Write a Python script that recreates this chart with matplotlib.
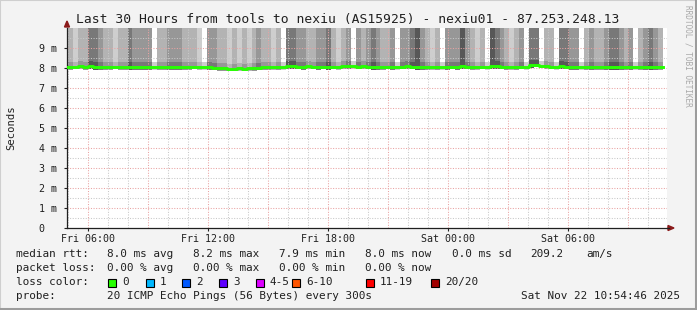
import numpy as np
import matplotlib
matplotlib.use("Agg")
import matplotlib.pyplot as plt
from matplotlib.patches import Polygon, Rectangle

# ---------------- data ----------------
title = "Last 30 Hours from tools to nexiu (AS15925) - nexiu01 - 87.253.248.13"
start_hour = 5.0          # Fri 05:00 (hours since Fri 00:00)
step_hours = 0.248        # one smoke/median bin
tick_hours = [6, 12, 18, 24, 30]
tick_labels = ["Fri 06:00", "Fri 12:00", "Fri 18:00", "Sat 00:00", "Sat 06:00"]
y_ticks = list(range(0, 10))
y_labels = ["0  "] + [f"{v} m" for v in range(1, 10)]

# smoke density level per bin (0 = none ... 5 = very dark)
smoke_level = [
    2, 1, 2, 2, 4, 4, 3, 2, 2, 1,
    2, 2, 4, 3, 3, 3, 3, 0, 2, 2,
    3, 3, 3, 2, 2, 2, 1, 0, 3, 3,
    2, 2, 1, 2, 1, 2, 1, 2, 3, 2,
    2, 1, 2, 0, 4, 4, 3, 3, 2, 2,
    3, 3, 4, 2, 1, 2, 3, 0, 3, 2,
    3, 4, 3, 2, 2, 3, 0, 3, 3, 4,
    5, 3, 2, 1, 2, 0, 3, 3, 3, 5,
    3, 2, 1, 2, 0, 5, 4, 3, 2, 1,
    2, 3, 0, 4, 4, 0, 2, 2, 0, 4,
    4, 3, 3, 0, 2, 3, 2, 2, 3, 4,
    4, 3, 2, 3, 0, 2, 3, 4, 3, 2,
]

# median rtt (ms) per bin
median_ms = [
    8.06, 8.07, 8.08, 8.06, 8.09, 8.05, 8.04, 8.06, 8.05, 8.07,
    8.05, 8.04, 8.06, 8.03, 8.05, 8.06, 8.04, 8.03, 8.05, 8.06,
    8.04, 8.05, 8.06, 8.04, 8.05, 8.07, 8.05, 8.04, 8.03, 8.02,
    8.01, 7.98, 7.97, 7.97, 7.98, 7.97, 7.99, 8.01, 8.02, 8.03,
    8.04, 8.03, 8.05, 8.06, 8.09, 8.08, 8.07, 8.06, 8.08, 8.07,
    8.06, 8.07, 8.05, 8.07, 8.06, 8.08, 8.10, 8.09, 8.07, 8.08,
    8.07, 8.06, 8.05, 8.06, 8.07, 8.06, 8.05, 8.07, 8.08, 8.07,
    8.06, 8.03, 8.04, 8.05, 8.06, 8.05, 8.06, 8.07, 8.05, 8.10,
    8.07, 8.06, 8.05, 8.07, 8.06, 8.09, 8.08, 8.07, 8.06, 8.05,
    8.06, 8.07, 8.06, 8.15, 8.17, 8.12, 8.08, 8.07, 8.06, 8.08,
    8.07, 8.06, 8.04, 8.03, 8.04, 8.05, 8.06, 8.05, 8.04, 8.05,
    8.06, 8.05, 8.06, 8.04, 8.05, 8.06, 8.05, 8.04, 8.05, 8.06,
]

loss_labels = ["0", "1", "2", "3", "4-5", "6-10", "11-19", "20/20"]
loss_colors = ["#26ff00", "#00b8ff", "#0059ff", "#5e00ff", "#dd00ff",
               "#ff5500", "#ff0000", "#a10000"]

# ---------------- figure ----------------
W, H = 697, 310
fig = plt.figure(figsize=(W / 100, H / 100), dpi=100)
fig.patch.set_facecolor("#f3f3f3")
MONO = "DejaVu Sans Mono"

def fx(px):
    return px / W

def fy(py):
    return 1 - py / H

# frame (3D border)
fig.add_artist(Rectangle((0, 0), 1, 1, transform=fig.transFigure, fill=False,
                         edgecolor="#cfcfcf", lw=1.5))
fig.add_artist(plt.Line2D([fx(1), fx(696)], [fy(308.5), fy(308.5)], transform=fig.transFigure,
                          color="#9c9c9c", lw=2.2))
fig.add_artist(plt.Line2D([fx(695.5), fx(695.5)], [fy(1), fy(309)], transform=fig.transFigure,
                          color="#9c9c9c", lw=2.2))

ax = fig.add_axes([fx(67), fy(228), fx(600), 200 / H])
ax.set_facecolor("white")
ax.set_xlim(4.95, 34.95)
ax.set_ylim(0, 10)

times = start_hour + step_hours * np.arange(len(median_ms))
med = np.array(median_ms)
lvl = np.array(smoke_level)
shade = np.array(["#ffffff", "#cecece", "#b3b3b3", "#979797", "#787878", "#575757"])

# smoke: upper pings reach beyond the top of the chart
low = med + 0.25
ax.bar(times, 10.5 - low, width=step_hours * 1.02, bottom=low, align="edge",
       color=shade[lvl], linewidth=0, zorder=1)
# denser smoke right above the median
ax.bar(times, 0.25 + 0.14, width=step_hours * 1.02, bottom=med - 0.14, align="edge",
       color=shade[np.minimum(lvl + 1, 5)], linewidth=0, zorder=1)

# grid
hours = np.arange(5, 35)
minor_h = [h for h in hours if h % 3 != 0]
major_h = [h for h in hours if h % 3 == 0]
dots = (0, (1, 1.5))
ax.vlines(minor_h, 0, 10, colors="#c8c8c8", lw=0.75, linestyles=[dots], zorder=2)
ax.vlines(major_h, 0, 10, colors="#e9a3a3", lw=0.75, linestyles=[dots], zorder=2)
ax.hlines(np.arange(0.5, 10, 1.0), 4.95, 34.95, colors="#c8c8c8", lw=0.75,
          linestyles=[dots], zorder=2)
ax.hlines(np.arange(1, 10, 1.0), 4.95, 34.95, colors="#e9a3a3", lw=0.75,
          linestyles=[dots], zorder=2)

# median line
ax.step(np.append(times, times[-1] + step_hours), np.append(med, med[-1]),
        where="post", color=loss_colors[0], lw=2.1, zorder=4)

# axes styling
for s in ["top", "right"]:
    ax.spines[s].set_visible(False)
ax.spines["left"].set_color("#202020")
ax.spines["bottom"].set_color("#202020")
ax.spines["left"].set_linewidth(0.9)
ax.spines["bottom"].set_linewidth(0.9)
ax.spines["bottom"].set_zorder(5)

ax.set_xticks(tick_hours)
ax.set_xticklabels(tick_labels, fontfamily=MONO, fontsize=7.2, color="#202020")
ax.set_yticks(y_ticks)
ax.set_yticklabels(y_labels, fontfamily=MONO, fontsize=7.2, color="#202020")
ax.tick_params(axis="x", length=2, width=0.8, color="#202020", pad=2.5)
ax.tick_params(axis="y", length=2, width=0.8, color="#202020", pad=18.5)
for lab in ax.get_yticklabels():
    lab.set_horizontalalignment("left")

# arrows
arrow_c = "#8b1a1a"
fig.add_artist(Polygon([[fx(668), fy(225.5)], [fx(668), fy(230.5)], [fx(674), fy(228)]],
                       closed=True, transform=fig.transFigure, color=arrow_c))
fig.add_artist(plt.Line2D([fx(667), fx(669)], [fy(228), fy(228)], transform=fig.transFigure,
                          color="#202020", lw=0.9))
fig.add_artist(Polygon([[fx(64.5), fy(27)], [fx(69.5), fy(27)], [fx(67), fy(21)]],
                       closed=True, transform=fig.transFigure, color=arrow_c))

# title and labels
fig.text(fx(348), fy(19), title, ha="center", va="center", fontfamily=MONO,
         fontsize=9.4, color="#202020")
fig.text(fx(11), fy(128), "Seconds", rotation=90, ha="center", va="center",
         fontfamily=MONO, fontsize=7.6, color="#202020")
fig.text(fx(688), fy(5), "RRDTOOL / TOBI OETIKER", rotation=270, ha="center", va="top",
         fontfamily=MONO, fontsize=5.6, color="#a8a8a8")

# legend
fs = 7.9
tc = "#202020"
def txt(px, py, s, **kw):
    fig.text(fx(px), fy(py), s, ha=kw.pop("ha", "left"), va="center", fontfamily=MONO,
             fontsize=fs, color=tc, **kw)

txt(16, 254, "median rtt:")
for xx, s in zip([107, 193, 279, 365, 452, 530, 586],
                 ["8.0 ms avg", "8.2 ms max", "7.9 ms min", "8.0 ms now",
                  "0.0 ms sd", "209.2", "am/s"]):
    txt(xx, 254, s)
txt(16, 268, "packet loss:")
for xx, s in zip([107, 193, 279, 365],
                 ["0.00 % avg", "0.00 % max", "0.00 % min", "0.00 % now"]):
    txt(xx, 268, s)
txt(16, 282, "loss color:")
sq_x = [108, 146, 182, 219, 256, 292, 366, 431]
for xx, lab, col in zip(sq_x, loss_labels, loss_colors):
    fig.add_artist(Rectangle((fx(xx), fy(286.5)), 8 / W, 8 / H, transform=fig.transFigure,
                             facecolor=col, edgecolor="#000000", lw=0.8))
    txt(xx + 14, 282, lab)
txt(16, 296, "probe:")
txt(107, 296, "20 ICMP Echo Pings (56 Bytes) every 300s")
txt(680, 296, "Sat Nov 22 10:54:46 2025", ha="right")

fig.savefig("out.png", dpi=100, facecolor=fig.get_facecolor())
